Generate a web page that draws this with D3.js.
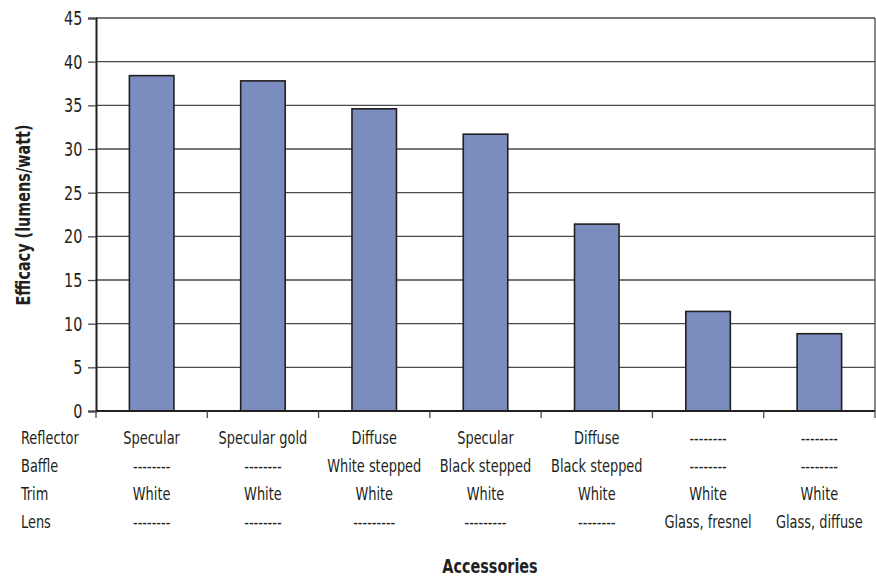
<!DOCTYPE html>
<html>
<head>
<meta charset="utf-8">
<script src="https://cdn.jsdelivr.net/npm/d3@7"></script>
<style>
  body { margin: 0; background: #fff; }
  text { font-family: "DejaVu Sans Condensed", "DejaVu Sans", sans-serif; font-stretch: condensed; fill: #231f20; }
</style>
</head>
<body>
<div id="chart"></div>
<script>
// values
var categories = ["c1", "c2", "c3", "c4", "c5", "c6", "c7"];
var efficacy = [38.4, 37.8, 34.6, 31.7, 21.4, 11.4, 8.85];
var yTicks = [0, 5, 10, 15, 20, 25, 30, 35, 40, 45];

var rowNames = ["Reflector", "Baffle", "Trim", "Lens"];
var reflector = ["Specular", "Specular gold", "Diffuse", "Specular", "Diffuse", "--------", "--------"];
var baffle = ["--------", "--------", "White stepped", "Black stepped", "Black stepped", "--------", "--------"];
var trim = ["White", "White", "White", "White", "White", "White", "White"];
var lens = ["--------", "--------", "---------", "---------", "--------", "Glass, fresnel", "Glass, diffuse"];
var tableRows = [reflector, baffle, trim, lens];

var svgWidth = 876;
var svgHeight = 577;

var margin = {
  top: 18,
  right: 1,
  bottom: 166,
  left: 96
};

var plotWidth = svgWidth - margin.left - margin.right;
var plotHeight = svgHeight - margin.top - margin.bottom;

var svg = d3.select("#chart")
  .append("svg")
  .attr("width", svgWidth)
  .attr("height", svgHeight);

var plot = svg.append("g")
  .attr("transform", `translate(${margin.left}, ${margin.top})`);

var xScale = d3.scaleBand()
  .domain(categories)
  .range([0, plotWidth])
  .paddingInner(0.6)
  .paddingOuter(0.3);

var yScale = d3.scaleLinear()
  .domain([0, 45])
  .range([plotHeight, 0]);

// gridlines
plot.append("g")
  .selectAll("line")
  .data(yTicks.slice(1))
  .enter()
  .append("line")
  .attr("x1", 0)
  .attr("x2", plotWidth)
  .attr("y1", d => yScale(d))
  .attr("y2", d => yScale(d))
  .attr("stroke", "#4a4a4a")
  .attr("stroke-width", 1.3);

// right border
plot.append("line")
  .attr("x1", plotWidth).attr("x2", plotWidth)
  .attr("y1", 0).attr("y2", plotHeight)
  .attr("stroke", "#4a4a4a")
  .attr("stroke-width", 1.3);

// bars
plot.selectAll("rect")
  .data(efficacy)
  .enter()
  .append("rect")
  .attr("x", (d, i) => xScale(categories[i]))
  .attr("y", d => yScale(d))
  .attr("width", xScale.bandwidth())
  .attr("height", d => plotHeight - yScale(d))
  .attr("fill", "#7b8cbf")
  .attr("stroke", "#231f20")
  .attr("stroke-width", 1.6);

// y axis
var yAxis = d3.axisLeft(yScale)
  .tickValues(yTicks)
  .tickSize(8)
  .tickPadding(8);

var yAxisG = plot.append("g").call(yAxis);
yAxisG.select(".domain").attr("stroke", "#231f20").attr("stroke-width", 2);
yAxisG.selectAll(".tick line").attr("stroke", "#4a4a4a").attr("stroke-width", 1.3);
yAxisG.selectAll("text")
  .attr("font-size", "20px")
  .attr("fill", "#231f20")
  .attr("font-family", null)
  .attr("transform", "scale(0.8,1)")
  .attr("x", -16 / 0.8 + 3);

// x axis with ticks at the band boundaries
var step = plotWidth / categories.length;
var xEdges = d3.range(categories.length + 1).map(i => i * step);

plot.append("line")
  .attr("x1", 0).attr("x2", plotWidth)
  .attr("y1", plotHeight).attr("y2", plotHeight)
  .attr("stroke", "#231f20")
  .attr("stroke-width", 2);

plot.append("g")
  .selectAll("line")
  .data(xEdges)
  .enter()
  .append("line")
  .attr("x1", d => d).attr("x2", d => d)
  .attr("y1", plotHeight).attr("y2", plotHeight + 7)
  .attr("stroke", "#4a4a4a")
  .attr("stroke-width", 1.3);

// accessories table under the axis
var rowY = [438, 466, 494, 522];
var squeeze = 0.8;

svg.append("g")
  .selectAll("text")
  .data(rowNames)
  .enter()
  .append("text")
  .attr("transform", (d, i) => `translate(21, ${rowY[i]}) scale(${squeeze},1)`)
  .attr("dy", "0.35em")
  .attr("font-size", "18px")
  .text(d => d);

tableRows.forEach(function(row, r) {
  svg.append("g")
    .selectAll("text")
    .data(row)
    .enter()
    .append("text")
    .attr("transform", (d, i) => `translate(${margin.left + xScale(categories[i]) + xScale.bandwidth() / 2}, ${rowY[r]}) scale(${squeeze},1)`)
    .attr("dy", "0.35em")
    .attr("text-anchor", "middle")
    .attr("font-size", "18px")
    .text(d => d);
});

// axis titles
svg.append("text")
  .attr("transform", `translate(490, 566) scale(${squeeze},1)`)
  .attr("dy", "0.35em")
  .attr("text-anchor", "middle")
  .attr("font-size", "20px")
  .style("font-weight", "bold")
  .text("Accessories");

svg.append("text")
  .attr("transform", `translate(23, 215) rotate(-90) scale(${squeeze},1)`)
  .attr("dy", "0.35em")
  .attr("text-anchor", "middle")
  .attr("font-size", "20px")
  .style("font-weight", "bold")
  .text("Efficacy (lumens/watt)");
</script>
</body>
</html>
